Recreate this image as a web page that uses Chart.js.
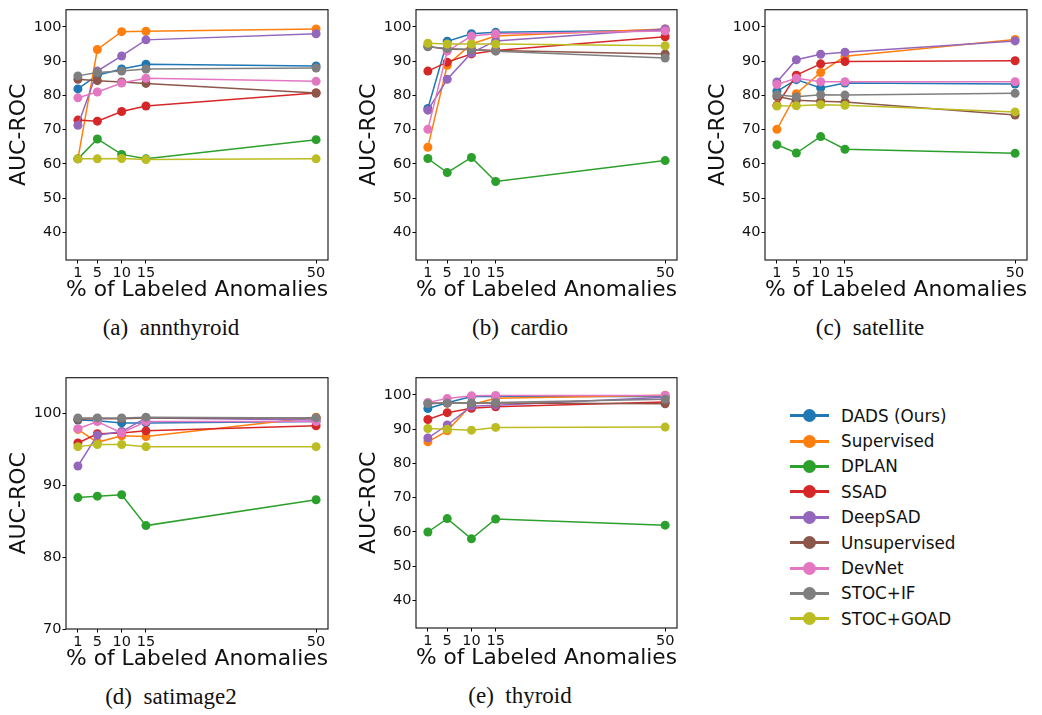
<!DOCTYPE html>
<html>
<head>
<meta charset="utf-8">
<script src="https://cdn.jsdelivr.net/npm/chart.js@4.4.0/dist/chart.umd.min.js"></script>
<style>
  body { margin: 0; background: #fff; width: 1042px; height: 715px; position: relative; overflow: hidden; font-family: 'DejaVu Sans', sans-serif; }
  canvas { position: absolute; }
  .cap { position: absolute; font-family: 'Liberation Serif', 'Times New Roman', serif; font-size: 23px; color: #111; transform: translate(-50%, -50%); white-space: pre; }
  #legend { position: absolute; left: 790px; top: 403px; }
  .item { height: 25.4px; display: flex; align-items: center; }
  .sw { position: relative; width: 39px; height: 13px; margin-right: 12px; }
  .sw .ln { position: absolute; left: 0; right: 0; top: 5px; height: 3px; }
  .sw .dot { position: absolute; left: 13px; top: 0; width: 13px; height: 13px; border-radius: 50%; }
  .item span { font-size: 16.8px; color: #111; }
</style>
</head>
<body>
<div id="legend"></div>
<script>
// Sensitivity to % of labeled anomalies, 5 datasets

const methods = ['DADS (Ours)', 'Supervised', 'DPLAN', 'SSAD', 'DeepSAD', 'Unsupervised', 'DevNet', 'STOC+IF', 'STOC+GOAD'];
const colors = ['#1f77b4', '#ff7f0e', '#2ca02c', '#d62728', '#9467bd', '#8c564b', '#e377c2', '#7f7f7f', '#bcbd22'];
const labeledPct = [1, 5, 10, 15, 50];
const yTicksWide = [40, 50, 60, 70, 80, 90, 100];
const yTicksNarrow = [70, 80, 90, 100];

// rows follow `methods` order
const annthyroid = [
  [81.9, 85.9, 87.7, 89.1, 88.6],
  [61.5, 93.4, 98.6, 98.7, 99.4],
  [61.5, 67.3, 62.8, 61.5, 67.1],
  [72.8, 72.5, 75.3, 76.9, 80.7],
  [71.3, 87.1, 91.5, 96.2, 98.0],
  [84.7, 84.3, 83.9, 83.5, 80.7],
  [79.3, 81.0, 83.6, 85.0, 84.1],
  [85.7, 86.7, 87.1, 87.7, 88.0],
  [61.5, 61.5, 61.6, 61.3, 61.5]
];
const cardio = [
  [76.2, 95.8, 98.0, 98.4, 99.0],
  [64.9, 88.8, 95.0, 97.3, 99.4],
  [61.6, 57.5, 61.9, 54.9, 61.0],
  [87.1, 89.7, 92.1, 93.1, 97.1],
  [75.7, 84.7, 92.4, 95.9, 99.4],
  [94.3, 93.5, 93.4, 93.1, 92.1],
  [70.1, 92.9, 97.3, 98.0, 98.8],
  [94.2, 93.7, 93.4, 92.9, 90.9],
  [95.2, 95.0, 95.0, 95.0, 94.5]
];
const satellite = [
  [81.2, 84.6, 82.2, 83.6, 83.3],
  [70.1, 80.5, 86.7, 91.4, 96.3],
  [65.6, 63.2, 68.0, 64.3, 63.1],
  [77.1, 85.9, 89.2, 89.9, 90.1],
  [83.9, 90.4, 92.0, 92.6, 95.9],
  [79.7, 78.6, 78.3, 78.1, 74.3],
  [83.2, 85.0, 84.0, 84.0, 84.0],
  [80.2, 79.6, 80.2, 80.1, 80.6],
  [76.9, 77.0, 77.3, 77.1, 75.2]
];
const satimage2 = [
  [99.1, 99.0, 98.7, 98.7, 98.9],
  [97.8, 96.0, 96.9, 96.8, 99.5],
  [88.3, 88.5, 88.7, 84.4, 88.0],
  [95.9, 97.2, 97.3, 97.6, 98.3],
  [92.7, 97.0, 97.5, 99.4, 99.1],
  [99.2, 99.3, 99.3, 99.4, 99.4],
  [97.9, 98.9, 97.3, 98.9, 98.9],
  [99.4, 99.4, 99.4, 99.5, 99.4],
  [95.4, 95.7, 95.7, 95.4, 95.4]
];
const thyroid = [
  [96.0, 97.7, 99.5, 99.5, 99.5],
  [86.3, 89.5, 97.1, 99.0, 99.9],
  [60.0, 63.9, 58.0, 63.8, 62.0],
  [92.8, 94.8, 96.1, 96.5, 97.9],
  [87.4, 91.2, 96.7, 97.0, 99.3],
  [97.6, 97.6, 97.6, 97.6, 97.4],
  [97.8, 98.9, 99.7, 99.8, 99.8],
  [97.4, 97.6, 97.6, 97.8, 98.7],
  [90.2, 90.0, 89.7, 90.5, 90.6]
];

const panels = [
  { data: annthyroid, caption: '(a)  annthyroid', capX: 171, left: 66, right: 328, top: 5, bottom: 260, yMin: 32, yTicks: yTicksWide },
  { data: cardio, caption: '(b)  cardio', capX: 520, left: 416, right: 677, top: 5, bottom: 260, yMin: 32, yTicks: yTicksWide },
  { data: satellite, caption: '(c)  satellite', capX: 870, left: 765, right: 1027, top: 5, bottom: 260, yMin: 32, yTicks: yTicksWide },
  { data: satimage2, caption: '(d)  satimage2', capX: 171, left: 66, right: 328, top: 373, bottom: 629, yMin: 70, yTicks: yTicksNarrow },
  { data: thyroid, caption: '(e)  thyroid', capX: 520, left: 416, right: 677, top: 373, bottom: 628, yMin: 32, yTicks: yTicksWide }
];

const Y_AXIS_W = 66;
const X_AXIS_H = 50;
const PAD_TOP = 5;
const PAD_RIGHT = 14;

// box around the plot area (matplotlib spines)
const framePlugin = {
  id: 'frame',
  afterDraw(chart) {
    const { ctx, chartArea: a } = chart;
    ctx.save();
    ctx.lineWidth = 1.2;
    ctx.strokeStyle = '#222';
    ctx.strokeRect(a.left, a.top, a.right - a.left, a.bottom - a.top);
    ctx.restore();
  }
};

function makePanel(p) {
  const cv = document.createElement('canvas');
  const w = p.right - p.left + Y_AXIS_W + PAD_RIGHT;
  const h = p.bottom - p.top + PAD_TOP + X_AXIS_H;
  cv.width = w; cv.height = h;
  cv.style.left = (p.left - Y_AXIS_W) + 'px';
  cv.style.top = (p.top - PAD_TOP) + 'px';
  cv.style.width = w + 'px'; cv.style.height = h + 'px';
  document.body.appendChild(cv);

  const datasets = methods.map((m, i) => ({
    label: m,
    data: labeledPct.map((x, j) => ({ x, y: p.data[i][j] })),
    borderColor: colors[i],
    backgroundColor: colors[i],
    borderWidth: 1.5,
    pointRadius: 4.5,
    pointBorderWidth: 0,
    pointBackgroundColor: colors[i],
    order: methods.length - i
  }));

  const tickFont = { family: 'DejaVu Sans', size: 14.5 };
  const titleFont = { family: 'DejaVu Sans', size: 22 };

  new Chart(cv, {
    type: 'line',
    data: { datasets },
    options: {
      responsive: false,
      animation: false,
      layout: { padding: { top: PAD_TOP, right: PAD_RIGHT, left: 0, bottom: 0 } },
      plugins: { legend: { display: false }, tooltip: { enabled: false } },
      scales: {
        x: {
          type: 'linear',
          min: -1.45, max: 52.45,
          afterBuildTicks: s => { s.ticks = labeledPct.map(v => ({ value: v })); },
          afterFit: s => { s.height = X_AXIS_H; },
          grid: { drawOnChartArea: false, drawTicks: true, tickLength: 3.5, color: '#000', tickWidth: 1 },
          border: { display: false },
          ticks: { color: '#111', font: tickFont, padding: 1, maxRotation: 0, autoSkip: false, callback: v => String(v) },
          title: { display: true, text: '% of Labeled Anomalies', color: '#111', font: titleFont, padding: { top: 0, bottom: 7 } }
        },
        y: {
          min: p.yMin, max: 105,
          afterBuildTicks: s => { s.ticks = p.yTicks.map(v => ({ value: v })); },
          afterFit: s => { s.width = Y_AXIS_W; },
          grid: { drawOnChartArea: false, drawTicks: true, tickLength: 3.5, color: '#000', tickWidth: 1 },
          border: { display: false },
          ticks: { color: '#111', font: tickFont, padding: 1, autoSkip: false, callback: v => String(v) },
          title: { display: true, text: 'AUC-ROC', color: '#111', font: titleFont, padding: { top: 6, bottom: 0 } }
        }
      }
    },
    plugins: [framePlugin]
  });

  const cap = document.createElement('div');
  cap.className = 'cap';
  cap.textContent = p.caption;
  cap.style.left = p.capX + 'px';
  cap.style.top = (p.bottom + 68) + 'px';
  document.body.appendChild(cap);
}

panels.forEach(makePanel);

// figure-level legend
const legend = document.getElementById('legend');
methods.forEach((m, i) => {
  const row = document.createElement('div');
  row.className = 'item';
  row.innerHTML = '<div class="sw"><div class="ln" style="background:' + colors[i] + '"></div><div class="dot" style="background:' + colors[i] + '"></div></div><span></span>';
  row.querySelector('span').textContent = m;
  legend.appendChild(row);
});
</script>
</body>
</html>
